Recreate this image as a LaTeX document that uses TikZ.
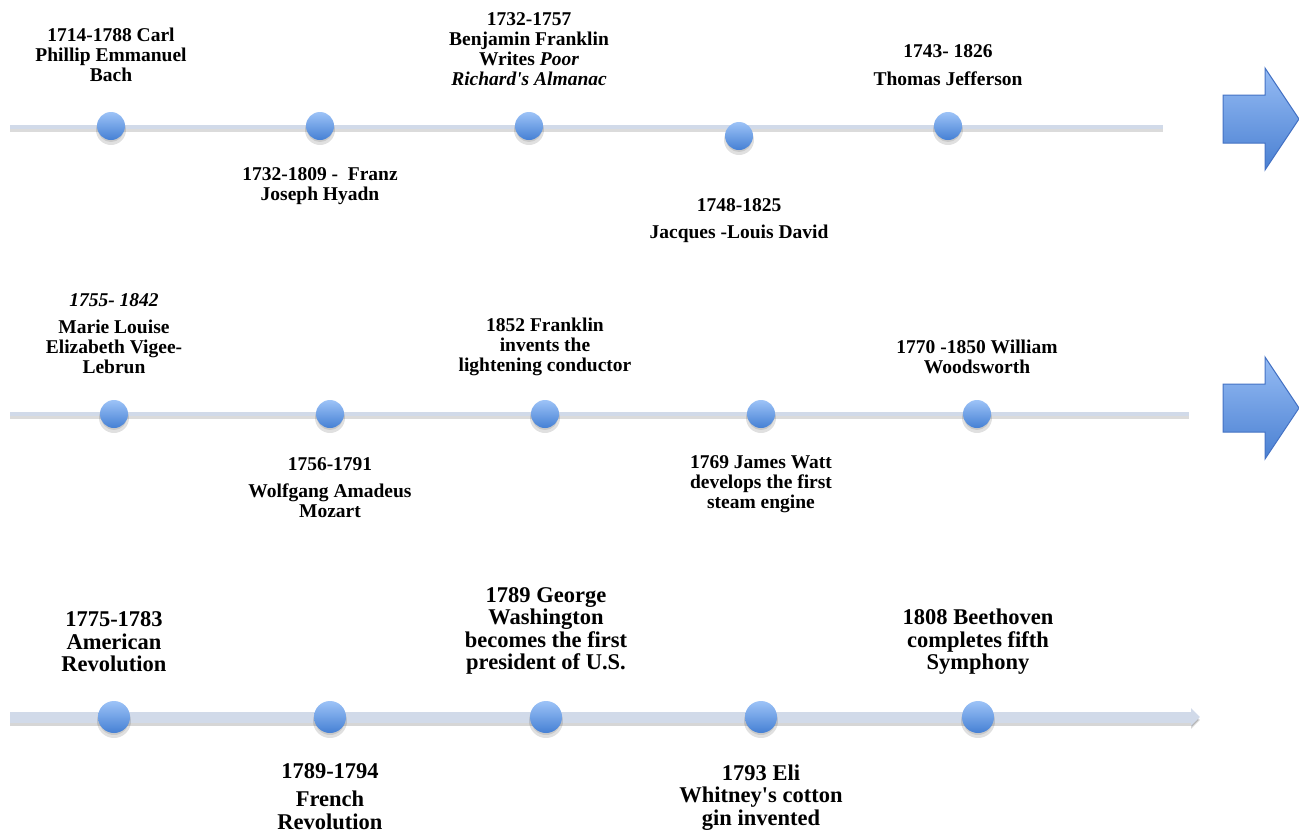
\documentclass[tikz,border=0pt]{standalone}
\usepackage{fontspec}
\setmainfont{Liberation Serif}
\usetikzlibrary{arrows.meta, shadows}

\definecolor{dottop}{HTML}{9DC3F7}
\definecolor{dotbot}{HTML}{4580D4}
\definecolor{axisblue}{HTML}{D1DAE9}
\definecolor{arrowtop}{HTML}{96BCF4}
\definecolor{arrowbot}{HTML}{4A80D2}
\definecolor{arrowline}{HTML}{4472C4}

\tikzset{
  dot/.style={circle, minimum size=28pt, inner sep=0pt, draw=none,
    top color=dottop, bottom color=dotbot},
  bigdot/.style={dot, minimum size=32pt},
  lbl/.style={font=\bfseries\fontsize{19.5}{20}\selectfont, align=center, inner sep=0pt},
  biglbl/.style={font=\bfseries\fontsize{22.5}{22.5}\selectfont, align=center, inner sep=0pt},
  axisline/.style={axisblue, line width=4pt},
  axisshade/.style={black, opacity=0.14, line width=4pt},
  blockarrow/.style={draw=arrowline, line width=1pt, top color=arrowtop, bottom color=arrowbot}
}

\begin{document}
\begin{tikzpicture}[x=1pt, y=-1pt]
  \clip (0,0) rectangle (1299,833);
  \fill[white] (0,0) rectangle (1299,833);

  % time lines
  \coordinate (s1) at (10,127);   \coordinate (e1) at (1163,127);
  \coordinate (s2) at (10,414);   \coordinate (e2) at (1189,414);
  \coordinate (s3) at (10,717);   \coordinate (e3) at (1200,717);
  \draw[axisshade] ([yshift=-3pt]s1) -- ([yshift=-3pt]e1);
  \draw[axisline] (s1) -- (e1);
  \draw[axisshade] ([yshift=-3pt]s2) -- ([yshift=-3pt]e2);
  \draw[axisline] (s2) -- (e2);
  \draw[black, opacity=0.16, line width=11pt, -{Triangle[width=17pt,length=9pt]}] ([yshift=-3pt]s3) -- ([yshift=-3pt]e3);
  \draw[axisblue, line width=11pt, -{Triangle[width=17pt,length=9pt]}] (s3) -- (e3);

  % block arrows at the right
  \foreach \c in {119, 408} {
    \draw[blockarrow] (1223,\c-24) -- (1265,\c-24) -- (1265,\c-51) -- (1299,\c)
      -- (1265,\c+51) -- (1265,\c+24) -- (1223,\c+24) -- cycle;
  }

  % dots with their shadows
  \foreach \x/\y/\n in {111/126/a1, 320/126/a2, 529/126/a3, 739/136/a4, 948/126/a5,
                        114/414/b1, 330/414/b2, 545/414/b3, 761/414/b4, 977/414/b5} {
    \fill[black, opacity=0.12] (\x,\y+4) circle (15);
    \fill[black, opacity=0.10] (\x,\y+3) circle (13);
    \node[dot] (\n) at (\x,\y) {};
  }
  \foreach \x/\n in {114/c1, 330/c2, 546/c3, 761/c4, 978/c5} {
    \fill[black, opacity=0.12] (\x,721) circle (17);
    \fill[black, opacity=0.10] (\x,720) circle (15);
    \node[bigdot] (\n) at (\x,717) {};
  }

  % first row
  \node[lbl] (ta1) at (111,55) {1714-1788 Carl\\Phillip Emmanuel\\Bach};
  \node[lbl] (ta2) at (320,186.5) {1732-1809 -\ \ Franz\\Joseph Hyadn};
  \node[lbl] (ta3) at (529,49.5) {1732-1757\\Benjamin Franklin\\Writes \textit{Poor}\\\textit{Richard\textquotesingle s Almanac}};
  \node[lbl] (ta4) at (739,220.5) {1748-1825\\[7pt]Jacques -Louis David};
  \node[lbl] (ta5) at (948,65) {1743- 1826\\[8pt]Thomas Jefferson};

  % second row
  \node[lbl] (tb1) at (114,333.5) {\textit{1755- 1842}\\[7pt]Marie Louise\\Elizabeth Vigee-\\Lebrun};
  \node[lbl] (tb2) at (330,488) {1756-1791\\[7pt]Wolfgang Amadeus\\Mozart};
  \node[lbl] (tb3) at (545,347) {1852 Franklin\\invents the\\lightening conductor};
  \node[lbl] (tb4) at (761,484.5) {1769 James Watt\\develops the first\\steam engine};
  \node[lbl] (tb5) at (977,357) {1770 -1850 William\\Woodsworth};

  % third row
  \node[biglbl] (tc1) at (114,642) {1775-1783\\American\\Revolution};
  \node[biglbl] (tc2) at (330,796.5) {1789-1794\\[6pt]French\\Revolution};
  \node[biglbl] (tc3) at (546,631) {1789 George\\Washington\\becomes the first\\president of U.S.};
  \node[biglbl] (tc4) at (761,797.5) {1793 Eli\\Whitney\textquotesingle s cotton\\gin invented};
  \node[biglbl] (tc5) at (978,642) {1808 Beethoven\\completes fifth\\Symphony};
\end{tikzpicture}
\end{document}
